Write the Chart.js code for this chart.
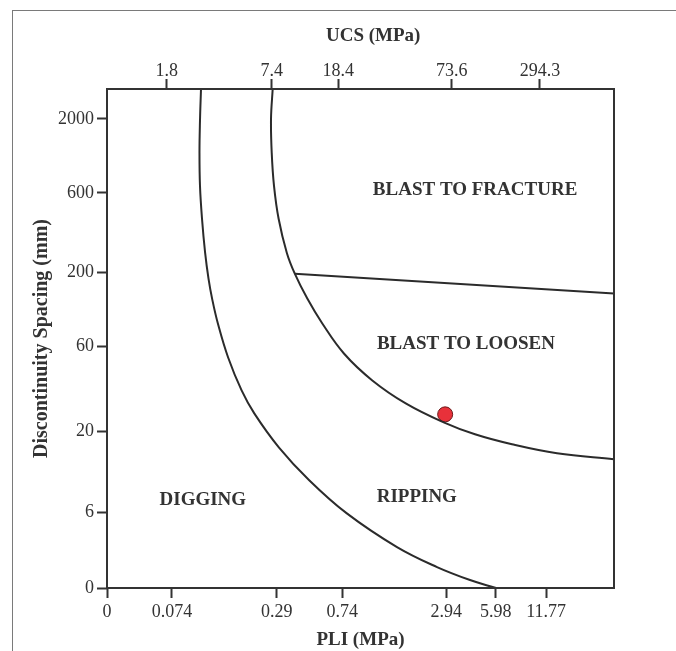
<!DOCTYPE html>
<html lang="en">
<head>
    <meta charset="UTF-8">
    <title>Excavatability chart</title>
    <script src="https://cdn.jsdelivr.net/npm/chart.js"></script>
    <style>
        body {
            margin: 0;
            background: #fff;
        }
        #wrap {
            position: relative;
            width: 676px;
            height: 651px;
        }
        #edge {
            position: absolute;
            left: 12px;
            top: 10px;
            right: 0;
            bottom: 0;
            border-top: 1px solid #7a7a7a;
            border-left: 1px solid #7a7a7a;
        }
        canvas {
            position: absolute;
            left: 0;
            top: 0;
        }
    </style>
</head>
<body>
<div id="wrap">
    <div id="edge"></div>
    <canvas id="grafico" width="676" height="651"></canvas>
</div>

<script>
    // axis ticks (schematic chart units 0..100 along each axis)
    const pliTickAt = [0, 12.8, 33.5, 46.4, 66.9, 76.7, 86.6];
    const pliTickLabels = ["0", "0.074", "0.29", "0.74", "2.94", "5.98", "11.77"];
    const ucsTickAt = [11.8, 32.5, 45.6, 68.0, 85.4];
    const ucsTickLabels = ["1.8", "7.4", "18.4", "73.6", "294.3"];
    const spacingTickAt = [0, 15.2, 31.4, 48.4, 63.2, 79.2, 94.0];
    const spacingTickLabels = ["0", "6", "20", "60", "200", "600", "2000"];

    // boundary curves
    const diggingRippingX = [18.54, 18.34, 18.24, 18.34, 18.74, 19.35, 20.02, 20.73, 21.87, 23.89, 26.55, 29.05,
                             33.89, 39.88, 47.24, 57.20, 65.09, 71.60, 76.73];
    const diggingRippingY = [100, 93.6, 87.2, 80.6, 74.0, 67.2, 62.0, 58.0, 53.0, 46.2, 39.6, 35.0,
                             28.2, 21.6, 15.0, 8.2, 4.2, 1.6, 0];
    const rippingBlastX = [32.68, 32.35, 32.49, 32.94, 33.85, 35.46, 37.04, 39.51, 42.47, 46.73, 52.33, 58.92,
                           66.41, 72.58, 79.88, 88.76, 100];
    const rippingBlastY = [100, 94.0, 87.2, 80.6, 74.0, 67.2, 63.0, 58.0, 53.0, 47.0, 41.6, 37.0,
                           33.2, 30.8, 28.8, 27.0, 25.8];
    const loosenFractureX = [37.04, 100];
    const loosenFractureY = [63.0, 59.0];

    // measured sample
    const sampleX = [66.7];
    const sampleY = [34.8];

    const zoneNames = ["BLAST TO FRACTURE", "BLAST TO LOOSEN", "DIGGING", "RIPPING"];
    const zoneX = [72.6, 70.8, 18.9, 61.1];
    const zoneY = [79.8, 48.8, 17.6, 18.2];

    const serif = "'Liberation Serif', 'Times New Roman', serif";
    const ink = "#333";

    function pares(xs, ys) {
        return xs.map((x, i) => ({ x: x, y: ys[i] }));
    }

    function fijarTicks(valores) {
        return function (axis) {
            axis.ticks = valores.map(v => ({ value: v }));
        };
    }

    const curva = {
        borderColor: "#2b2b2b",
        borderWidth: 2,
        pointRadius: 0,
        tension: 0.4,
        fill: false,
        showLine: true
    };

    const zonas = {
        id: "zonas",
        afterDatasetsDraw(chart) {
            const ctx = chart.ctx;
            const a = chart.chartArea;
            const sx = chart.scales.x, sy = chart.scales.y;
            ctx.save();
            ctx.strokeStyle = ink;
            ctx.lineWidth = 2;
            ctx.strokeRect(a.left, a.top, a.right - a.left, a.bottom - a.top);
            ctx.font = "bold 19px " + serif;
            ctx.fillStyle = ink;
            ctx.textAlign = "center";
            ctx.textBaseline = "middle";
            zoneNames.forEach((t, i) => {
                ctx.fillText(t, sx.getPixelForValue(zoneX[i]), sy.getPixelForValue(zoneY[i]));
            });
            // top axis title (sits a little right of centre in the original)
            ctx.fillText("UCS (MPa)", sx.getPixelForValue(52.5), 36);
            ctx.restore();
        }
    };

    const ejeBase = {
        type: "linear",
        min: 0,
        max: 100,
        border: { display: false },
        grid: { drawOnChartArea: false, drawTicks: true, tickLength: 10, tickWidth: 2, tickColor: ink }
    };

    new Chart(document.getElementById("grafico").getContext("2d"), {
        type: "scatter",
        data: {
            datasets: [
                Object.assign({ label: "Digging / Ripping", data: pares(diggingRippingX, diggingRippingY) }, curva),
                Object.assign({ label: "Ripping / Blasting", data: pares(rippingBlastX, rippingBlastY) }, curva),
                Object.assign({ label: "Loosen / Fracture", data: pares(loosenFractureX, loosenFractureY) }, curva, { tension: 0 }),
                {
                    label: "Sample",
                    data: pares(sampleX, sampleY),
                    pointRadius: 7.5,
                    backgroundColor: "#e8313a",
                    borderColor: "#6b1a1a",
                    borderWidth: 1
                }
            ]
        },
        options: {
            responsive: false,
            animation: false,
            layout: { padding: { left: 0, right: 62, top: 0, bottom: 0 } },
            plugins: {
                legend: { display: false },
                tooltip: { enabled: false }
            },
            scales: {
                x: Object.assign({}, ejeBase, {
                    position: "bottom",
                    afterBuildTicks: fijarTicks(pliTickAt),
                    afterFit: s => { s.height = 63; },
                    ticks: {
                        autoSkip: false, maxRotation: 0, padding: 3, color: ink,
                        font: { family: serif, size: 18 },
                        callback: (v, i) => pliTickLabels[i]
                    },
                    title: {
                        display: true, text: "PLI (MPa)", color: ink,
                        font: { family: serif, size: 19, weight: "bold" },
                        padding: { top: 2, bottom: 0 }
                    }
                }),
                x2: Object.assign({}, ejeBase, {
                    position: "top",
                    afterBuildTicks: fijarTicks(ucsTickAt),
                    afterFit: s => { s.height = 89; },
                    ticks: {
                        autoSkip: false, maxRotation: 0, padding: -3, color: ink,
                        font: { family: serif, size: 18 },
                        callback: (v, i) => ucsTickLabels[i]
                    }
                }),
                y: Object.assign({}, ejeBase, {
                    position: "left",
                    afterBuildTicks: fijarTicks(spacingTickAt),
                    afterFit: s => { s.width = 107; },
                    ticks: {
                        autoSkip: false, padding: 3, color: ink,
                        font: { family: serif, size: 18 },
                        callback: (v, i) => spacingTickLabels[i]
                    },
                    title: {
                        display: true, text: "Discontinuity Spacing (mm)", color: ink,
                        font: { family: serif, size: 20, weight: "bold" },
                        padding: { top: 30, bottom: 0 }
                    }
                })
            }
        },
        plugins: [zonas]
    });
</script>
</body>
</html>
